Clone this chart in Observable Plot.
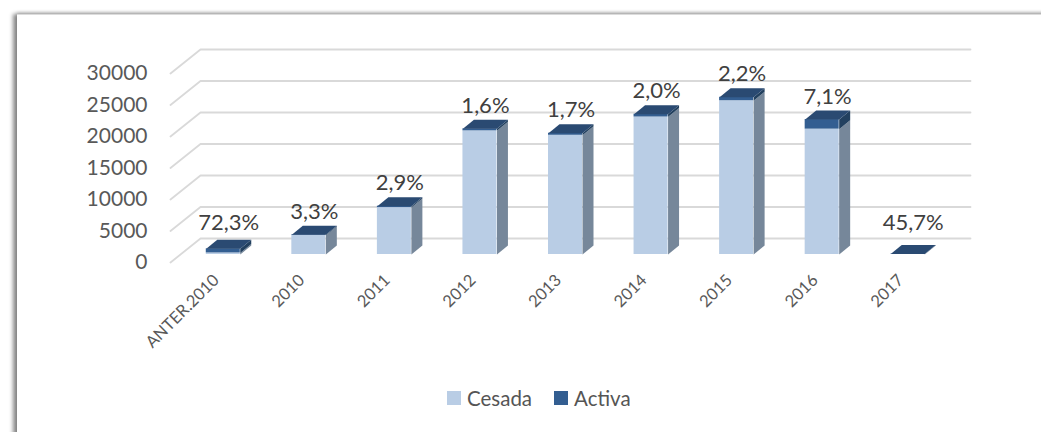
<!DOCTYPE html>
<html>
<head>
<meta charset="utf-8">
<script src="https://cdn.jsdelivr.net/npm/d3@7"></script>
<script src="https://cdn.jsdelivr.net/npm/@observablehq/plot@0.6"></script>
<style>
  html, body { margin: 0; padding: 0; background: #fff; overflow: hidden; }
  #wrap { position: relative; width: 1041px; height: 432px; overflow: hidden; background: #fff; font-family: Lato, "Open Sans", sans-serif; }
  #frame { position: absolute; left: 17px; top: 14px; right: -20px; bottom: -20px; background: #fff;
           border-top: 1px solid #dcdcdc;
           box-shadow: -4px 0 4px rgba(0,0,0,0.45), 0 -2px 3px rgba(0,0,0,0.15); }
  #chart { position: absolute; left: 0; top: 0; }
  #legend { position: absolute; left: 447px; top: 386px; display: flex; align-items: center; font-size: 20.5px; color: #555; }
  #legend .sw { width: 14px; height: 14px; display: inline-block; margin-right: 6px; }
  #legend .item { display: flex; align-items: center; margin-right: 22px; }
</style>
</head>
<body>
<div id="wrap">
  <div id="frame"></div>
  <div id="chart"></div>
  <div id="legend"></div>
</div>
<script>
// ---- data ----
const categories = ["ANTER.2010", "2010", "2011", "2012", "2013", "2014", "2015", "2016", "2017"];
const cesada = [249, 3027, 7448, 19631, 18923, 21825, 24411, 19899, 43];
const activa = [651, 103, 222, 319, 327, 445, 549, 1521, 37];
const pctLabels = ["72,3%", "3,3%", "2,9%", "1,6%", "1,7%", "2,0%", "2,2%", "7,1%", "45,7%"];
const yTicks = [0, 5000, 10000, 15000, 20000, 25000, 30000];
const seriesNames = ["Cesada", "Activa"];

// ---- styles ----
const CES = "#B9CDE5", CES_SIDE = "#76879A";
const ACT = "#335E91", ACT_SIDE = "#22405F", ACT_TOP = "#2A4A72";
const GRID = "#D9D9D9";

// ---- layout ----
const W = 1041, H = 375, ML = 180, MR = 91, MT = 65, MB = H - 254;
const x0 = -0.5, x1 = categories.length - 0.5;
const ux = (x1 - x0) / (W - ML - MR);   // data units per px (x)
const uy = 30000 / (H - MT - MB);        // data units per px (y)
const hw = 17 * ux;                      // half bar width
const dX = 11 * ux, dY = 9 * uy;         // bar depth
const wX = 20 * ux, wY = 16 * uy;        // back wall offset
const fX = -10 * ux, fY = -8 * uy;       // front plane offset

const rows = categories.map((cat, i) => ({
  i, cat, c: cesada[i], a: activa[i], t: cesada[i] + activa[i], label: pctLabels[i]
}));

const grid = yTicks.flatMap(v => [
  {v, x: x0 + fX, y: v + fY},
  {v, x: x0 + wX, y: v + wY},
  {v, x: x1 + wX, y: v + wY}
]);

const sideCes = rows.flatMap(d => [
  {id: d.i, x: d.i + hw, y: 0},
  {id: d.i, x: d.i + hw + dX, y: dY},
  {id: d.i, x: d.i + hw + dX, y: d.c + dY},
  {id: d.i, x: d.i + hw, y: d.c}
]);
const sideAct = rows.flatMap(d => [
  {id: d.i, x: d.i + hw, y: d.c},
  {id: d.i, x: d.i + hw + dX, y: d.c + dY},
  {id: d.i, x: d.i + hw + dX, y: d.t + dY},
  {id: d.i, x: d.i + hw, y: d.t}
]);
const tops = rows.flatMap(d => [
  {id: d.i, x: d.i - hw, y: d.t},
  {id: d.i, x: d.i + hw, y: d.t},
  {id: d.i, x: d.i + hw + dX, y: d.t + dY},
  {id: d.i, x: d.i - hw + dX, y: d.t + dY}
]);

const plot = Plot.plot({
  width: W, height: H,
  marginLeft: ML, marginRight: MR, marginTop: MT, marginBottom: MB,
  style: {background: "transparent", fontFamily: "Lato, 'Open Sans', sans-serif", overflow: "visible"},
  x: {type: "linear", domain: [x0, x1], axis: null},
  y: {domain: [0, 30000], axis: null},
  marks: [
    Plot.line(grid, {x: "x", y: "y", z: "v", stroke: GRID, strokeWidth: 1.8}),
    Plot.line(sideCes, {x: "x", y: "y", z: "id", fill: CES_SIDE, stroke: "none"}),
    Plot.line(sideAct, {x: "x", y: "y", z: "id", fill: ACT_SIDE, stroke: "none"}),
    Plot.rect(rows, {x1: d => d.i - hw, x2: d => d.i + hw, y1: 0, y2: "c", fill: CES}),
    Plot.rect(rows, {x1: d => d.i - hw, x2: d => d.i + hw, y1: "c", y2: "t", fill: ACT}),
    Plot.line(tops, {x: "x", y: "y", z: "id", fill: ACT_TOP, stroke: "none"}),
    Plot.text(yTicks, {x: x0 + fX, y: d => d + fY, text: d => String(d), textAnchor: "end", dx: -23, fontSize: 21, fill: "#595959"}),
    Plot.text(rows, {x: "i", y: 0, text: "cat", rotate: -45, textAnchor: "end", dx: -7, dy: 23, fontSize: 16.5, fill: "#595959"}),
    Plot.text(rows, {x: "i", y: d => Math.max(d.t, dY), text: "label", dx: 5.5, dy: -23, fontSize: 22, fill: "#404040"})
  ]
});
document.getElementById("chart").appendChild(plot);

const legend = document.getElementById("legend");
[[seriesNames[0], CES], [seriesNames[1], ACT]].forEach(([name, col]) => {
  const it = document.createElement("span");
  it.className = "item";
  const sw = document.createElement("span");
  sw.className = "sw"; sw.style.background = col;
  it.appendChild(sw);
  it.appendChild(document.createTextNode(name));
  legend.appendChild(it);
});
</script>
</body>
</html>
